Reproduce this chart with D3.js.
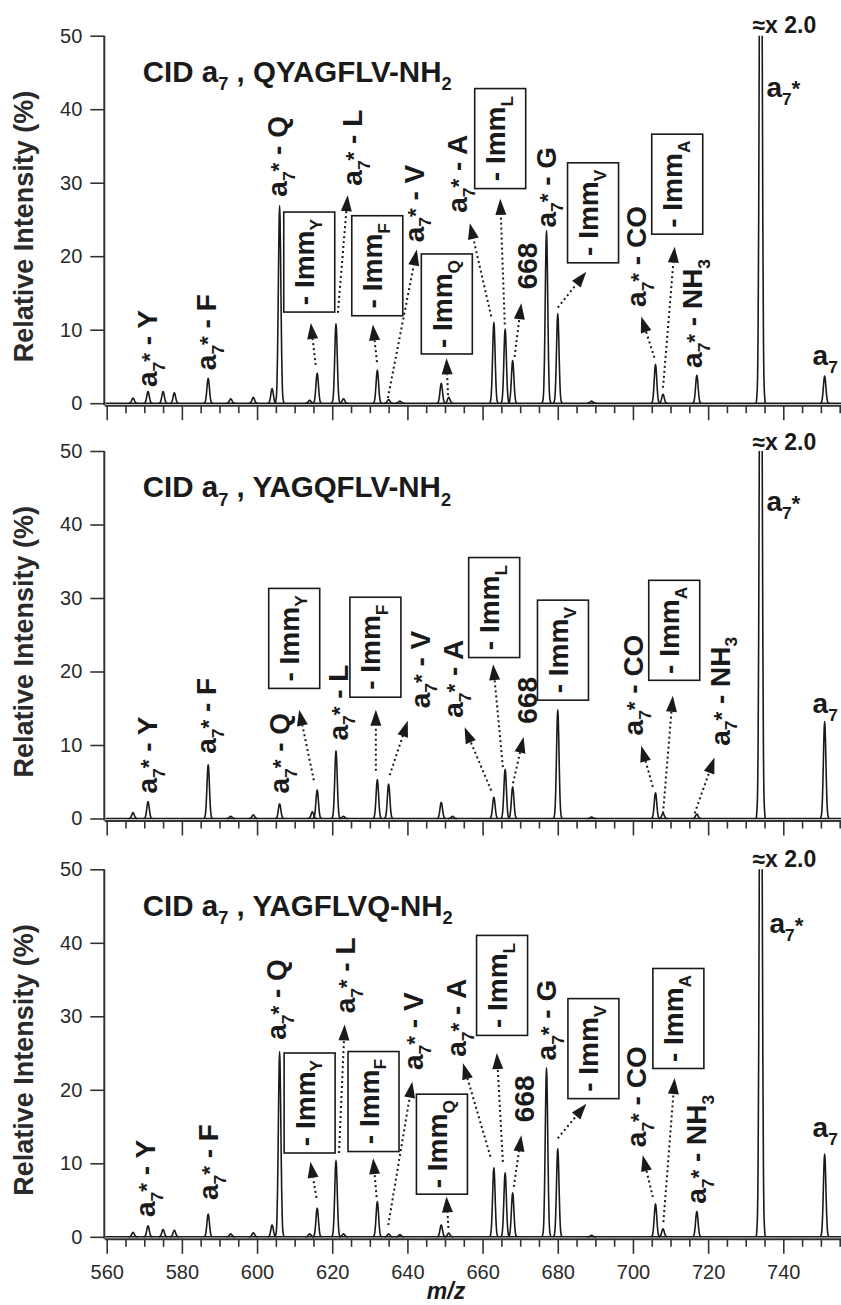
<!DOCTYPE html>
<html>
<head>
<meta charset="utf-8">
<script src="https://cdn.jsdelivr.net/npm/d3@7"></script>
<style>
	body { margin: 0; background: #fff; }
	svg { display: block; font-family: 'Liberation Sans', Arial, Helvetica, sans-serif; }
	text { white-space: pre; }
</style>
</head>
<body>
<div id="chart"></div>
<script>
// sequences, one panel each
const sequences = ['QYAGFLV', 'YAGQFLV', 'YAGFLVQ']

// peak lists: m/z and relative intensity (%)
const mzQYAGFLV = [567, 571, 575, 578, 587, 593, 599, 604, 606, 614, 616, 621, 623, 632, 635, 638, 649, 651, 663, 666, 668, 677, 680, 689, 706, 708, 717, 734, 751]
const intQYAGFLV = [0.7, 1.6, 1.6, 1.4, 3.4, 0.6, 0.8, 2.0, 26.9, 0.4, 4.1, 10.8, 0.6, 4.5, 0.5, 0.3, 2.7, 0.8, 11.0, 10.1, 5.8, 23.5, 12.2, 0.3, 5.3, 1.2, 3.8, 100, 3.7]

const mzYAGQFLV = [567, 571, 587, 593, 599, 606, 614.7, 616, 621, 623, 632, 635, 649, 652, 663, 666, 668, 680, 689, 706, 708, 717, 734, 751]
const intYAGQFLV = [0.8, 2.3, 7.3, 0.3, 0.5, 2.0, 0.9, 3.9, 9.2, 0.3, 5.3, 4.7, 2.2, 0.3, 2.9, 6.7, 4.3, 14.8, 0.2, 3.5, 0.7, 0.6, 100, 13.2]

const mzYAGFLVQ = [567, 571, 575, 578, 587, 593, 599, 604, 606, 614, 616, 621, 623, 632, 635, 638, 649, 651, 663, 666, 668, 677, 680, 689, 706, 708, 717, 734, 751]
const intYAGFLVQ = [0.6, 1.5, 1.0, 0.9, 3.1, 0.4, 0.55, 1.6, 25.2, 0.4, 3.9, 10.4, 0.4, 4.8, 0.4, 0.3, 1.6, 0.5, 9.4, 8.7, 6.0, 23.0, 12.0, 0.2, 4.5, 1.1, 3.45, 100, 11.25]

// peak labels, rotated: [text, m/z, intensity where the text starts]
// '_' = subscript, '^' = superscript for the next character
const labelsQYAGFLV = [
	['a_7^* - Y', 573.4, 2.2], ['a_7^* - F', 589.0, 4.5], ['a_7^* - Q', 607.9, 28.1],
	['a_7^* - L', 627.9, 29.6], ['a_7^* - V', 644.3, 21.9], ['a_7^* - A', 655.8, 25.9],
	['668', 674.4, 15.5], ['a_7^* - G', 679.4, 23.9], ['a_7^* - CO', 703.5, 13.1],
	['a_7^* - NH_3', 718.5, 4.8]
]
const labelsYAGQFLV = [
	['a_7^* - Y', 573.3, 3.4], ['a_7^* - F', 589.2, 8.8], ['a_7^* - Q', 608.5, 3.4],
	['a_7^* - L', 624.1, 10.6], ['a_7^* - V', 645.9, 15.0], ['a_7^* - A', 654.7, 13.7],
	['668', 674.4, 12.9], ['a_7^* - CO', 702.6, 11.3], ['a_7^* - NH_3', 725.7, 9.9]
]
const labelsYAGFLVQ = [
	['a_7^* - Y', 572.8, 2.7], ['a_7^* - F', 589.6, 5.0], ['a_7^* - Q', 607.8, 26.8],
	['a_7^* - L', 626.0, 30.4], ['a_7^* - V', 644.1, 22.7], ['a_7^* - A', 655.7, 24.5],
	['668', 673.8, 15.6], ['a_7^* - G', 679.6, 24.0], ['a_7^* - CO', 703.5, 12.2],
	['a_7^* - NH_3', 719.5, 4.5]
]

// horizontal labels: [text, m/z, intensity of baseline]
const flatQYAGFLV = [['≈x 2.0', 731.8, 50.4], ['a_7^*', 735.5, 41.7], ['a_7', 747.8, 5.2]]
const flatYAGQFLV = [['≈x 2.0', 731.8, 50.2], ['a_7^*', 735.5, 41.8], ['a_7', 747.8, 14.4]]
const flatYAGFLVQ = [['≈x 2.0', 731.8, 50.3], ['a_7^*', 736.3, 41.3], ['a_7', 747.8, 13.6]]

// boxed immonium-loss labels: [text, m/z of left edge, intensity of bottom edge]
const boxesQYAGFLV = [
	['- Imm_Y', 607.1, 12.4], ['- Imm_F', 625.2, 11.9], ['- Imm_Q', 643.7, 6.7],
	['- Imm_L', 657.9, 29.2], ['- Imm_V', 682.6, 19.1], ['- Imm_A', 705.0, 23.0]
]
const boxesYAGQFLV = [
	['- Imm_Y', 603.1, 17.7], ['- Imm_F', 624.7, 16.5], ['- Imm_L', 656.3, 21.9],
	['- Imm_V', 674.6, 16.1], ['- Imm_A', 704.2, 18.8]
]
const boxesYAGFLVQ = [
	['- Imm_Y', 607.2, 11.4], ['- Imm_F', 624.2, 11.6], ['- Imm_Q', 642.4, 5.8],
	['- Imm_L', 658.4, 27.4], ['- Imm_V', 682.7, 18.8], ['- Imm_A', 705.3, 22.9]
]

// dotted arrows: [m/z from, intensity from, m/z to, intensity to]
const arrowsQYAGFLV = [
	[615.6, 5.2, 614.3, 10.9], [621.5, 12.3, 624.1, 28.3], [631.9, 5.6, 630.8, 10.7],
	[634.8, 0.7, 642.5, 20.9], [650.8, 1.1, 650.4, 6.1], [662.3, 11.8, 656.6, 24.5],
	[665.9, 10.7, 664.7, 27.8], [668.5, 6.3, 670.3, 13.6], [680.0, 13.0, 687.6, 17.9],
	[705.7, 6.2, 702.2, 11.8], [708.0, 2.1, 711.1, 21.3]
]
const arrowsYAGQFLV = [
	[615.1, 5.2, 611.2, 14.8], [631.6, 6.5, 631.6, 14.8], [635.3, 5.9, 640.1, 13.3],
	[662.3, 3.8, 655.2, 12.4], [665.4, 7.0, 662.8, 21.0], [668.1, 4.8, 670.9, 11.1],
	[705.3, 4.3, 702.2, 9.9], [708.0, 0.7, 710.6, 16.7], [716.4, 0.7, 721.7, 8.3]
]
const arrowsYAGFLVQ = [
	[615.8, 5.3, 614.2, 10.2], [621.8, 11.4, 623.3, 28.9], [631.8, 5.4, 630.9, 10.7],
	[634.9, 1.6, 641.3, 21.1], [650.9, 1.2, 650.4, 5.5], [662.1, 10.9, 654.8, 23.6],
	[665.4, 10.2, 663.8, 25.0], [668.3, 6.8, 670.3, 13.8], [680.0, 13.4, 687.6, 18.1],
	[705.3, 5.4, 702.6, 11.1], [708.1, 2.0, 711.1, 21.6]
]

const yTicks = [0, 10, 20, 30, 40, 50]
const xMajor = [560, 580, 600, 620, 640, 660, 680, 700, 720, 740]
const xMinor = d3.range(565, 756, 5).filter(t => t % 20 !== 0)

const panels = [
	{ seq: sequences[0], mz: mzQYAGFLV, int: intQYAGFLV, labels: labelsQYAGFLV, flat: flatQYAGFLV, boxes: boxesQYAGFLV, arrows: arrowsQYAGFLV },
	{ seq: sequences[1], mz: mzYAGQFLV, int: intYAGQFLV, labels: labelsYAGQFLV, flat: flatYAGQFLV, boxes: boxesYAGQFLV, arrows: arrowsYAGQFLV },
	{ seq: sequences[2], mz: mzYAGFLVQ, int: intYAGFLVQ, labels: labelsYAGFLVQ, flat: flatYAGFLVQ, boxes: boxesYAGFLVQ, arrows: arrowsYAGFLVQ }
]

// peak outline, offsets in m/z and fraction of peak height
const peakShape = [[-1.2, 0], [-0.9, 0.024], [-0.7, 0.105], [-0.55, 0.25], [-0.4, 0.48], [-0.25, 0.75], [-0.12, 0.936], [0, 1],
	[0.12, 0.936], [0.25, 0.75], [0.4, 0.48], [0.55, 0.25], [0.7, 0.105], [0.9, 0.024], [1.2, 0]]

var width = 841
var height = 1305
var panelTops = [35.7, 451, 869.3]
var panelH = 367.5
var ink = '#1a1a1a'
var labelSize = 28
var titleSize = 29.5
var boxSize = 28
var boxW = 51
var boxH = 100

var svg = d3.select('#chart')
	.append('svg')
	.attr('width', width)
	.attr('height', height)

var x = d3.scaleLinear()
	.domain([559.36, 755.35])
	.range([104.3, 841])

// text with sub/superscripts as tspans
function rich(text, str, fs) {
	var parts = str.match(/[_^].|[^_^]+/g)
	var shift = 0
	parts.forEach(s => {
		var size = fs, target = 0, txt = s
		if (s[0] === '_') { size = fs * 0.62; target = fs * 0.28; txt = s.slice(1) }
		else if (s[0] === '^') { size = fs * 0.8; target = -fs * 0.02; txt = s.slice(1) }
		text.append('tspan')
			.attr('font-size', size)
			.attr('dy', target - shift)
			.text(txt)
		shift = target
	})
}

panels.forEach((p, i) => {
	var top = panelTops[i]
	var y = d3.scaleLinear()
		.domain([0, 50])
		.range([top + panelH, top])
	var g = svg.append('g')
	var axisY = y(0) + 2

	// clip so the base peak stops at the top of the scale
	var clipId = 'clip' + i
	svg.append('clipPath')
		.attr('id', clipId)
		.append('rect')
		.attr('x', x.range()[0])
		.attr('y', y(50))
		.attr('width', width - x.range()[0])
		.attr('height', panelH + 2)

	// y axis
	var ya = g.append('g')
		.attr('transform', 'translate(' + x.range()[0] + ',0)')
		.call(d3.axisLeft(y).tickValues(yTicks).tickSize(14).tickPadding(8).tickSizeOuter(0))
	ya.select('.domain').remove()
	ya.append('line')
		.attr('y1', y(50))
		.attr('y2', axisY)
		.attr('stroke', '#333')
		.attr('stroke-width', 2)

	// x axis, major and minor ticks
	var xa = g.append('g')
		.attr('transform', 'translate(0,' + axisY + ')')
		.call(d3.axisBottom(x).tickValues(xMajor).tickSize(15).tickPadding(11).tickSizeOuter(0)
			.tickFormat(i === 2 ? d3.format('d') : ''))
	xa.select('.domain').attr('stroke', '#333').attr('stroke-width', 2)
	var xm = g.append('g')
		.attr('transform', 'translate(0,' + axisY + ')')
		.call(d3.axisBottom(x).tickValues(xMinor).tickSize(8).tickFormat(''))
	xm.select('.domain').remove()

	g.selectAll('.tick line').attr('stroke', '#333').attr('stroke-width', 1.6)
	g.selectAll('.tick text')
		.attr('font-family', null)
		.attr('font-size', 20)
		.attr('fill', '#2a2a2a')
	g.selectAll('g').attr('font-family', null).attr('font-size', null)

	// spectrum: flat baseline plus one outline per peak
	var line = d3.line()
		.x(d => x(d[0]))
		.y(d => y(d[1]))
		.curve(d3.curveMonotoneX)
	var spec = g.append('g').attr('clip-path', 'url(#' + clipId + ')')
	spec.append('path')
		.attr('d', line([[x.domain()[0] + 0.3, 0], [x.domain()[1], 0]]))
		.attr('fill', 'none')
		.attr('stroke', ink)
		.attr('stroke-width', 1.6)
	spec.selectAll('path.peak')
		.data(p.mz.map((m, k) => [m, p.int[k]]))
		.enter()
		.append('path')
		.attr('class', 'peak')
		.attr('d', d => line(peakShape.map(s => [d[0] + s[0], d[1] * s[1]])))
		.attr('fill', 'none')
		.attr('stroke', ink)
		.attr('stroke-width', 1.6)
		.attr('stroke-linejoin', 'round')

	// title
	var title = g.append('text')
		.attr('x', x(569.6))
		.attr('y', y(43.7))
		.attr('font-size', titleSize)
		.attr('font-weight', 'bold')
		.attr('fill', ink)
	rich(title, 'CID a_7 , ' + p.seq + '-NH_2', titleSize)

	// rotated peak labels
	p.labels.forEach(l => {
		var t = g.append('text')
			.attr('transform', 'translate(' + x(l[1]) + ',' + y(l[2]) + ') rotate(-90)')
			.attr('font-size', labelSize)
			.attr('font-weight', 'bold')
			.attr('fill', ink)
		rich(t, l[0], labelSize)
	})

	// horizontal labels
	p.flat.forEach(l => {
		var fs = l[0][0] === '≈' ? 23 : labelSize
		var t = g.append('text')
			.attr('x', x(l[1]))
			.attr('y', y(l[2]))
			.attr('font-size', fs)
			.attr('font-weight', 'bold')
			.attr('fill', ink)
		rich(t, l[0], fs)
	})

	// boxes
	p.boxes.forEach(b => {
		var bx = x(b[1]), by = y(b[2]) - boxH
		g.append('rect')
			.attr('x', bx)
			.attr('y', by)
			.attr('width', boxW)
			.attr('height', boxH)
			.attr('fill', '#fff')
			.attr('stroke', ink)
			.attr('stroke-width', 1.6)
		var t = g.append('text')
			.attr('transform', 'translate(' + (bx + boxW / 2 + 5) + ',' + (by + boxH / 2) + ') rotate(-90)')
			.attr('text-anchor', 'middle')
			.attr('font-size', boxSize)
			.attr('font-weight', 'bold')
			.attr('fill', ink)
		rich(t, b[0], boxSize)
	})

	// dotted arrows with solid heads
	p.arrows.forEach(a => {
		var x1 = x(a[0]), y1 = y(a[1]), x2 = x(a[2]), y2 = y(a[3])
		var ang = Math.atan2(y2 - y1, x2 - x1)
		var hl = 16, hw = 5.5
		var bx = x2 - hl * Math.cos(ang), by = y2 - hl * Math.sin(ang)
		g.append('line')
			.attr('x1', x1).attr('y1', y1)
			.attr('x2', bx).attr('y2', by)
			.attr('stroke', ink)
			.attr('stroke-width', 2)
			.attr('stroke-dasharray', '2,3')
		var px = -Math.sin(ang) * hw, py = Math.cos(ang) * hw
		g.append('path')
			.attr('d', 'M' + x2 + ',' + y2 + 'L' + (bx + px) + ',' + (by + py) + 'L' + (bx - px) + ',' + (by - py) + 'Z')
			.attr('fill', ink)
	})

	// y axis title
	svg.append('text')
		.attr('transform', 'translate(33,' + (top + panelH / 2 + 7) + ') rotate(-90)')
		.attr('text-anchor', 'middle')
		.attr('font-size', 27)
		.attr('font-weight', 'bold')
		.attr('fill', '#2a2a2a')
		.text('Relative Intensity (%)')
})

// x axis title
svg.append('text')
	.attr('x', 446)
	.attr('y', 1299)
	.attr('text-anchor', 'middle')
	.attr('font-size', 23)
	.attr('font-weight', 'bold')
	.attr('font-style', 'italic')
	.attr('fill', ink)
	.text('m/z')
</script>
</body>
</html>
